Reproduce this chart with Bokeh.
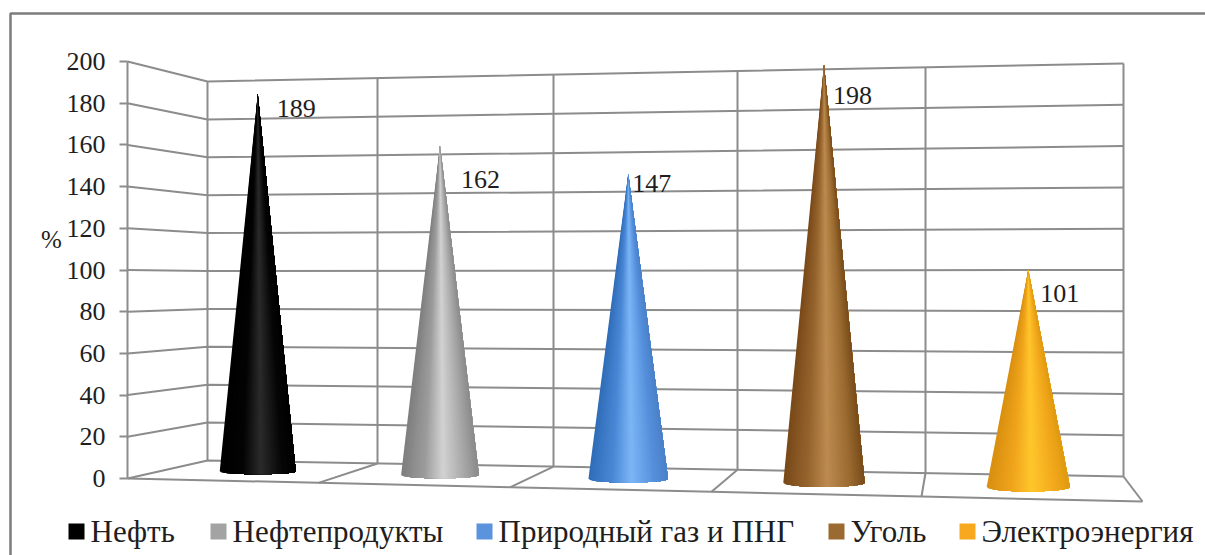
from bokeh.plotting import figure
from bokeh.models import LinearAxis, FixedTicker, Range1d
from bokeh.core.properties import value
from bokeh.embed import file_html
from bokeh.resources import INLINE

# ---------- data ----------
categories = ["Нефть", "Нефтепродукты", "Природный газ и ПНГ", "Уголь", "Электроэнергия"]
values = [189, 162, 147, 198, 101]
y_ticks = [0, 20, 40, 60, 80, 100, 120, 140, 160, 180, 200]
y_axis_label = "%"

# ---------- styling ----------
FONT = "Liberation Serif"
TEXT = "#1e1e1e"
GRID = "#8c8c8c"
legend_colors = ["#000000", "#a3a3a3", "#5b93dc", "#9a6a30", "#f7a81e"]
gradient_stops = [-1.0, -0.4, 0.08, 0.65, 1.0]
gradients = [
    ["#000000", "#040404", "#2b2b2b", "#060606", "#000000"],
    ["#7e7e7e", "#9c9c9c", "#d2d2d2", "#a6a6a6", "#8a8a8a"],
    ["#2f6cb8", "#4a88d6", "#7cb6f6", "#5590dc", "#4a80c8"],
    ["#784818", "#96652e", "#bd8b50", "#9a6a30", "#784c1a"],
    ["#d88f10", "#f0a41c", "#ffc62c", "#f2a81c", "#e09a10"],
]

# ---------- page geometry (page pixels) ----------
PAGE_L, PAGE_T, W, H = 0, 0, 1205, 555
ZERO_PY, TOP_PY = 478.0, 61.0                 # front-left axis: value 0 and 200
K = (ZERO_PY - TOP_PY) / 200.0                # pixels per value on the axis
AXIS_X = 127.0
BACK_X = [207, 377, 553, 737, 925, 1123]      # rear wall dividers
FRONT_X = [127, 318, 510, 711, 921, 1142]     # floor front edge dividers
BACK0_L, BACK0_R = 460.0, 476.0               # rear wall value 0
BACK_SCALE_L, BACK_SCALE_R = 1.895, 2.065     # rear wall px per value
FRONT0_L, FRONT0_R = 478.0, 501.0             # floor front edge

def Y(py):
    """Page pixel row -> value space of the y axis."""
    return (ZERO_PY - py) / K

def back_py(x, v):
    t = (x - BACK_X[0]) / (BACK_X[-1] - BACK_X[0])
    return BACK0_L + (BACK0_R - BACK0_L) * t - v * (BACK_SCALE_L + (BACK_SCALE_R - BACK_SCALE_L) * t)

def front0_py(x):
    t = (x - FRONT_X[0]) / (FRONT_X[-1] - FRONT_X[0])
    return FRONT0_L + (FRONT0_R - FRONT0_L) * t

def hex2rgb(c):
    return tuple(int(c[i:i + 2], 16) for i in (1, 3, 5))

def shade(stops, t):
    for j in range(len(gradient_stops) - 1):
        a, b = gradient_stops[j], gradient_stops[j + 1]
        if t <= b:
            f = (t - a) / (b - a)
            ca, cb = hex2rgb(stops[j]), hex2rgb(stops[j + 1])
            return "#%02x%02x%02x" % tuple(round(ca[k] + (cb[k] - ca[k]) * f) for k in range(3))
    return stops[-1]

p = figure(width=W, height=H, output_backend="svg", toolbar_location=None,
           x_range=Range1d(PAGE_L, PAGE_L + W),
           y_range=Range1d(Y(PAGE_T + H), Y(PAGE_T)),
           min_border=0, outline_line_color=None, background_fill_color="#ffffff",
           x_axis_type=None, y_axis_type=None)
p.grid.visible = False

# outer frame
p.line([10, 10, 1205], [Y(555), Y(13), Y(13)], line_color="#7c7c7c", line_width=2.5)

# side wall + rear wall horizontal gridlines
for v in y_ticks:
    p.line([AXIS_X, BACK_X[0], BACK_X[-1]],
           [Y(ZERO_PY - v * K), Y(back_py(BACK_X[0], v)), Y(back_py(BACK_X[-1], v))],
           line_color=GRID, line_width=2)
# rear wall verticals
for x in BACK_X:
    p.line([x, x], [Y(back_py(x, 0)), Y(back_py(x, 200))], line_color=GRID, line_width=2)
# floor
p.line(FRONT_X, [Y(front0_py(x)) for x in FRONT_X], line_color=GRID, line_width=2)
for bx, fx in zip(BACK_X[1:], FRONT_X[1:]):
    p.line([bx, fx], [Y(back_py(bx, 0)), Y(front0_py(fx))], line_color=GRID, line_width=2)

# cones: each shaded wedge covers everything to its right, painted left to right
N = 48
label_offsets = [(19, 15), (21, 34), (4, 10), (9, 31), (12, 24)]
for i, (val, stops) in enumerate(zip(values, gradients)):
    cx = (BACK_X[i] + BACK_X[i + 1] + FRONT_X[i] + FRONT_X[i + 1]) / 4
    base = (back_py(BACK_X[i], 0) + back_py(BACK_X[i + 1], 0)
            + front0_py(FRONT_X[i]) + front0_py(FRONT_X[i + 1])) / 4
    u = i + 0.5
    back_scale = BACK_SCALE_L + (BACK_SCALE_R - BACK_SCALE_L) * u / 5
    front_scale = 2.06 + 0.043 * u
    apex = base - val * (back_scale + front_scale) / 2
    r = 38.0 + 0.9 * i
    b = 3.0 + 0.4 * i
    ts = [-1 + 2 * k / N for k in range(N + 1)]
    edge_x = [cx + r * t for t in ts]
    edge_y = [Y(base + b * (max(0.0, 1 - t * t)) ** 0.5) for t in ts]
    xs, ys, cols = [], [], []
    for k in range(N):
        xs.append([cx] + edge_x[k:])
        ys.append([Y(apex)] + edge_y[k:])
        cols.append(shade(stops, (ts[k] + ts[k + 1]) / 2))
    p.patches(xs, ys, fill_color=cols, line_color=None)
    dx, dy = label_offsets[i]
    p.text([cx + dx], [Y(apex + dy)], text=[str(val)], text_font=value(FONT),
           text_font_size="26px", text_color=TEXT, text_align="left", text_baseline="middle")

# real y axis, fixed on the front-left wall edge
ax = LinearAxis(ticker=FixedTicker(ticks=y_ticks), fixed_location=AXIS_X, bounds=(0, 200))
ax.axis_line_color = GRID
ax.axis_line_width = 2
ax.major_tick_line_color = GRID
ax.major_tick_line_width = 2
ax.major_tick_out = 8
ax.major_tick_in = 0
ax.minor_tick_line_color = None
ax.major_label_standoff = 14
ax.major_label_text_font = FONT
ax.major_label_text_font_size = "26px"
ax.major_label_text_color = TEXT
p.add_layout(ax, "left")

p.text([51], [Y(239)], text=[y_axis_label], text_font=value(FONT), text_font_size="25px",
       text_color=TEXT, text_align="center", text_baseline="middle")

# legend
swatch_x = [68, 210, 476, 828, 959]
for name, col, sx in zip(categories, legend_colors, swatch_x):
    p.quad(left=[sx], right=[sx + 16], top=[Y(523)], bottom=[Y(539)], fill_color=col, line_color=None)
    p.text([sx + 22], [Y(531)], text=[name], text_font=value(FONT), text_font_size="31px",
           text_color=TEXT, text_align="left", text_baseline="middle")

open("out.html", "w").write(file_html(p, INLINE))
